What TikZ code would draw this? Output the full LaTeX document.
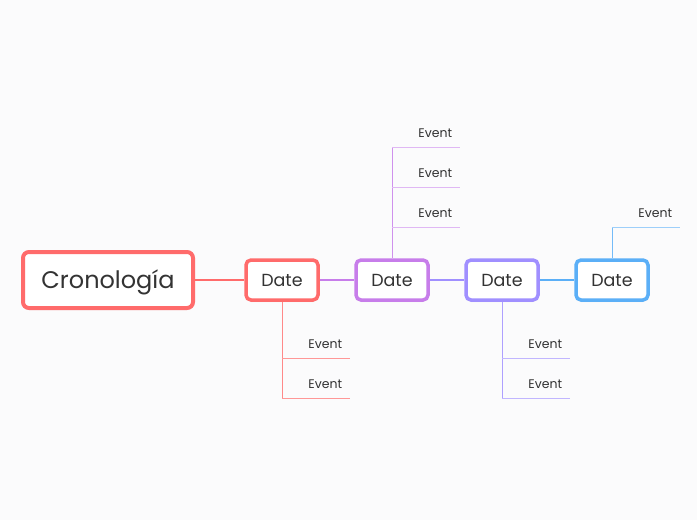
\documentclass[tikz,border=0pt]{standalone}
\usepackage{fontspec}
\setmainfont{Poppins}
\usetikzlibrary{shadows}
\definecolor{cred}{HTML}{FF6B6B}
\definecolor{cpur}{HTML}{C77DEA}
\definecolor{clav}{HTML}{A08FFF}
\definecolor{cblu}{HTML}{5BAFF7}
\definecolor{ctxt}{HTML}{333333}
\definecolor{cbg}{HTML}{FBFBFC}
\tikzset{
  mainbox/.style={draw=cred, line width=4pt, rounded corners=6pt, fill=white,
    minimum width=170pt, minimum height=56pt, inner sep=0pt,
    text height=17pt, text depth=0pt,
    font=\fontsize{24}{28}\selectfont, text=ctxt,
    drop shadow={opacity=0.12, shadow xshift=0pt, shadow yshift=-2pt}},
  datebox/.style={line width=3.5pt, rounded corners=5pt, fill=white,
    minimum width=72pt, minimum height=40pt, inner sep=0pt,
    text height=12.5pt, text depth=0pt,
    font=\fontsize{17.5}{20}\selectfont, text=ctxt,
    drop shadow={opacity=0.12, shadow xshift=0pt, shadow yshift=-2pt}},
  evt/.style={anchor=south west, text width=52pt, align=right,
    inner xsep=8pt, inner ysep=9pt, text height=9pt, text depth=0pt,
    minimum height=0pt, font=\fontsize{12.5}{14}\selectfont, text=ctxt},
  link/.style={line width=2pt},
  branch/.style={line width=1pt},
}
\begin{document}
\begin{tikzpicture}[x=1pt,y=-1pt]
\fill[cbg] (0,0) rectangle (697,520);
\useasboundingbox (0,0) rectangle (697,520);

\node[mainbox] (root) at (108,280) {Cronología};
\node[datebox, draw=cred] (d1) at (282,280) {Date};
\node[datebox, draw=cpur] (d2) at (392,280) {Date};
\node[datebox, draw=clav] (d3) at (502,280) {Date};
\node[datebox, draw=cblu] (d4) at (612,280) {Date};

% main connectors
\draw[link, cred] (root.east) -- (d1.west);
\draw[link, cpur] (d1.east) -- (d2.west);
\draw[link, clav] (d2.east) -- (d3.west);
\draw[link, cblu] (d3.east) -- (d4.west);

% Date 1 events (below)
\node[evt] (e11) at (282,358) {Event};
\node[evt] (e12) at (282,398) {Event};
\draw[branch, cred!80] (d1.south) -- (e12.south west);
\draw[branch, cred!70] (e11.south west) -- (e11.south east);
\draw[branch, cred!70] (e12.south west) -- (e12.south east);

% Date 2 events (above)
\node[evt] (e21) at (392,147) {Event};
\node[evt] (e22) at (392,187) {Event};
\node[evt] (e23) at (392,227) {Event};
\draw[branch, cpur!85] (d2.north) -- (e21.south west);
\draw[branch, cpur!55] (e21.south west) -- (e21.south east);
\draw[branch, cpur!55] (e22.south west) -- (e22.south east);
\draw[branch, cpur!55] (e23.south west) -- (e23.south east);

% Date 3 events (below)
\node[evt] (e31) at (502,358) {Event};
\node[evt] (e32) at (502,398) {Event};
\draw[branch, clav!85] (d3.south) -- (e32.south west);
\draw[branch, clav!65] (e31.south west) -- (e31.south east);
\draw[branch, clav!65] (e32.south west) -- (e32.south east);

% Date 4 event (above)
\node[evt] (e41) at (612,227) {Event};
\draw[branch, cblu!85] (d4.north) -- (e41.south west);
\draw[branch, cblu!60] (e41.south west) -- (e41.south east);
\end{tikzpicture}
\end{document}
